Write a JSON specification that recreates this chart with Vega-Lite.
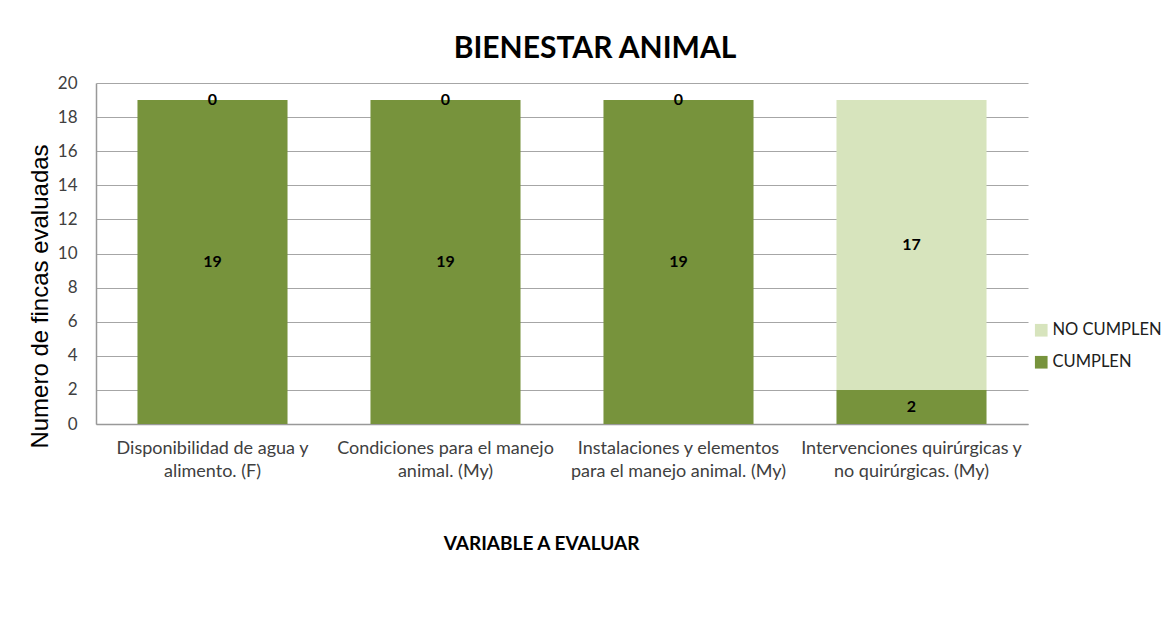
{
  "$schema": "https://vega.github.io/schema/vega-lite/v6.json",
  "width": 932,
  "height": 341,
  "padding": {"left": 16, "top": 34, "right": 5, "bottom": 5},
  "background": "white",
  "title": {
    "text": "BIENESTAR ANIMAL",
    "font": "Lato",
    "fontSize": 30,
    "fontWeight": "bold",
    "color": "#000000",
    "anchor": "middle",
    "dx": 33,
    "offset": 10
  },
  "data": {
    "values": [
      {"variable": "Disponibilidad de agua y\nalimento. (F)", "estado": "CUMPLEN", "n": 19, "orden": 1},
      {"variable": "Disponibilidad de agua y\nalimento. (F)", "estado": "NO CUMPLEN", "n": 0, "orden": 2},
      {"variable": "Condiciones para el manejo\nanimal. (My)", "estado": "CUMPLEN", "n": 19, "orden": 1},
      {"variable": "Condiciones para el manejo\nanimal. (My)", "estado": "NO CUMPLEN", "n": 0, "orden": 2},
      {"variable": "Instalaciones y elementos\npara el manejo animal. (My)", "estado": "CUMPLEN", "n": 19, "orden": 1},
      {"variable": "Instalaciones y elementos\npara el manejo animal. (My)", "estado": "NO CUMPLEN", "n": 0, "orden": 2},
      {"variable": "Intervenciones quirúrgicas y\nno quirúrgicas. (My)", "estado": "CUMPLEN", "n": 2, "orden": 1},
      {"variable": "Intervenciones quirúrgicas y\nno quirúrgicas. (My)", "estado": "NO CUMPLEN", "n": 17, "orden": 2}
    ]
  },
  "transform": [
    {"stack": "n", "groupby": ["variable"], "sort": [{"field": "orden"}], "as": ["y0", "y1"]},
    {"calculate": "(datum.y0 + datum.y1) / 2", "as": "ymid"}
  ],
  "encoding": {
    "x": {
      "field": "variable",
      "type": "nominal",
      "sort": null,
      "scale": {"paddingInner": 0.356, "paddingOuter": 0.178},
      "axis": {
        "title": "VARIABLE A EVALUAR",
        "titleFont": "Lato",
        "titleFontSize": 19,
        "titleFontWeight": "bold",
        "titleColor": "#000000",
        "titleX": 445,
        "titleY": 110,
        "titleBaseline": "top",
        "titleAlign": "center",
        "labelAngle": 0,
        "labelExpr": "split(datum.label, '\\n')",
        "labelFont": "Lato",
        "labelFontSize": 18,
        "labelColor": "#404040",
        "labelPadding": 24,
        "labelLineHeight": 23,
        "labelBaseline": "middle",
        "labelLimit": 400,
        "ticks": false,
        "domainColor": "#999999",
        "domainWidth": 1.5
      }
    }
  },
  "layer": [
    {
      "mark": {"type": "bar"},
      "encoding": {
        "y": {
          "field": "y0",
          "type": "quantitative",
          "scale": {"domain": [0, 20]},
          "axis": {
            "title": "Numero de fincas evaluadas",
            "titleFont": "Liberation Sans",
            "titleFontSize": 24,
            "titleFontWeight": "normal",
            "titleColor": "#000000",
            "titleX": -56,
            "titleY": 213,
            "titleAngle": -90,
            "titleAlign": "center",
            "titleBaseline": "middle",
            "values": [0, 2, 4, 6, 8, 10, 12, 14, 16, 18, 20],
            "labelOverlap": false,
            "labelFont": "Lato",
            "labelFontSize": 17,
            "labelColor": "#404040",
            "labelPadding": 19,
            "ticks": false,
            "domainColor": "#999999",
            "domainWidth": 1.5,
            "gridColor": "#a6a6a6",
            "gridWidth": 1.2,
            "minExtent": 80,
            "maxExtent": 80
          }
        },
        "y2": {"field": "y1"},
        "color": {
          "field": "estado",
          "type": "nominal",
          "scale": {"domain": ["NO CUMPLEN", "CUMPLEN"], "range": ["#D7E4BD", "#77933C"]},
          "legend": {
            "title": null,
            "orient": "none",
            "legendX": 937,
            "legendY": 239,
            "symbolType": "square",
            "symbolSize": 160,
            "symbolStrokeWidth": 0,
            "labelFont": "Lato",
            "labelFontSize": 16.5,
            "labelColor": "#202020",
            "labelOffset": 3,
            "rowPadding": 15
          }
        }
      }
    },
    {
      "mark": {"type": "text", "font": "Lato", "fontSize": 16, "fontWeight": "bold", "color": "#000000", "baseline": "middle"},
      "encoding": {
        "y": {
          "field": "ymid",
          "type": "quantitative",
          "axis": {
            "title": "Numero de fincas evaluadas",
            "titleFont": "Liberation Sans",
            "titleFontSize": 24,
            "titleFontWeight": "normal",
            "titleColor": "#000000",
            "titleX": -56,
            "titleY": 213,
            "titleAngle": -90,
            "titleAlign": "center",
            "titleBaseline": "middle",
            "values": [0, 2, 4, 6, 8, 10, 12, 14, 16, 18, 20],
            "labelOverlap": false,
            "labelFont": "Lato",
            "labelFontSize": 17,
            "labelColor": "#404040",
            "labelPadding": 19,
            "ticks": false,
            "domainColor": "#999999",
            "domainWidth": 1.5,
            "gridColor": "#a6a6a6",
            "gridWidth": 1.2,
            "minExtent": 80,
            "maxExtent": 80
          }
        },
        "text": {"field": "n", "type": "quantitative"}
      }
    }
  ],
  "config": {
    "view": {"stroke": null}
  }
}
